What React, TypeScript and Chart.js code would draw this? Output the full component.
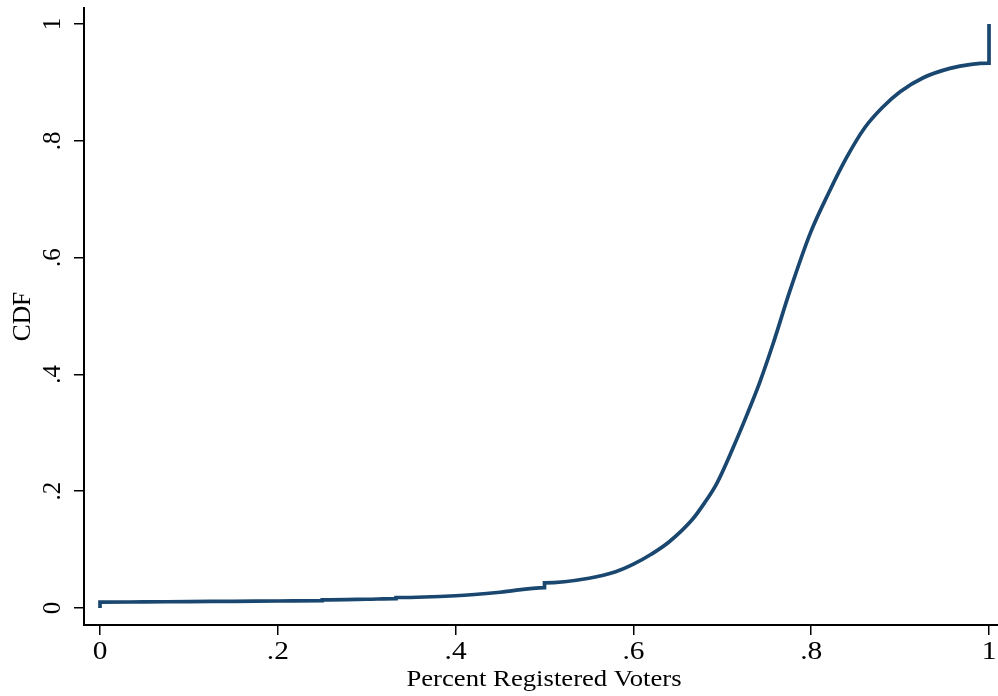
import React, { useEffect, useRef } from "react";
import { Chart, registerables } from "chart.js";

Chart.register(...registerables);

// Percent registered voters (x) and empirical CDF (y)
const pctRegistered = [
  0, 0, 0.05, 0.1, 0.15, 0.2, 0.25, 0.25, 0.3, 0.333, 0.333, 0.4, 0.45, 0.5, 0.5,
  0.55, 0.58, 0.6, 0.62, 0.64, 0.666, 0.68, 0.694, 0.712, 0.728, 0.742, 0.757,
  0.776, 0.799, 0.82, 0.84, 0.86, 0.88, 0.9, 0.926, 0.956, 0.98, 1, 1,
];
const cdfValues = [
  0, 0.01, 0.0105, 0.011, 0.0115, 0.012, 0.0125, 0.014, 0.015, 0.016, 0.018,
  0.021, 0.027, 0.035, 0.043, 0.051, 0.062, 0.075, 0.092, 0.113, 0.151, 0.18,
  0.214, 0.274, 0.332, 0.386, 0.452, 0.543, 0.642, 0.712, 0.772, 0.822, 0.857,
  0.884, 0.908, 0.924, 0.931, 0.933, 1,
];
const xTickValues = [0, 0.2, 0.4, 0.6, 0.8, 1];
const xTickLabels = ["0", ".2", ".4", ".6", ".8", "1"];
const yTickValues = [0, 0.2, 0.4, 0.6, 0.8, 1];
const yTickLabels = ["0", ".2", ".4", ".6", ".8", "1"];
const xTitle = "Percent Registered Voters";
const yTitle = "CDF";

const FONT = "'Liberation Serif', 'Times New Roman', serif";

// Draws axis text (tick labels, titles) at positions from the chart's scales,
// with a slight horizontal stretch to mimic the reference typeface.
const axisTextPlugin = {
  id: "axisText",
  afterDraw(chart: any) {
    const ctx = chart.ctx as CanvasRenderingContext2D;
    const xs = chart.scales.x;
    const ys = chart.scales.y;
    const area = chart.chartArea;
    ctx.save();
    ctx.fillStyle = "#000";
    ctx.textBaseline = "alphabetic";
    ctx.textAlign = "center";

    // x tick labels
    ctx.font = `24.5px ${FONT}`;
    xs.ticks.forEach((t: any) => {
      const i = xTickValues.indexOf(t.value);
      if (i < 0) return;
      const px = xs.getPixelForValue(t.value);
      ctx.save();
      ctx.translate(px, xs.top + 34);
      ctx.scale(1.2, 1);
      ctx.fillText(xTickLabels[i], 0, 0);
      ctx.restore();
    });

    // x title
    ctx.font = `23px ${FONT}`;
    ctx.save();
    ctx.translate((area.left + area.right) / 2 + 3, xs.top + 61);
    ctx.scale(1.16, 1);
    ctx.fillText(xTitle, 0, 0);
    ctx.restore();

    // y tick labels (rotated)
    ctx.font = `25px ${FONT}`;
    ys.ticks.forEach((t: any) => {
      const i = yTickValues.indexOf(t.value);
      if (i < 0) return;
      const py = ys.getPixelForValue(t.value);
      ctx.save();
      ctx.translate(ys.right - 24.5, py);
      ctx.rotate(-Math.PI / 2);
      ctx.fillText(yTickLabels[i], 0, 0);
      ctx.restore();
    });

    // y title (rotated)
    ctx.font = `25.5px ${FONT}`;
    ctx.save();
    ctx.translate(ys.left + 30, (area.top + area.bottom) / 2);
    ctx.rotate(-Math.PI / 2);
    ctx.fillText(yTitle, 0, 0);
    ctx.restore();

    ctx.restore();
  },
};

export default function App() {
  const ref = useRef<HTMLCanvasElement | null>(null);
  useEffect(() => {
    if (!ref.current) return;
    const points = pctRegistered.map((x, i) => ({ x, y: cdfValues[i] }));
    const chart = new Chart(ref.current, {
      type: "line",
      data: {
        datasets: [
          {
            data: points,
            borderColor: "#1a476f",
            borderWidth: 3.7,
            pointRadius: 0,
            cubicInterpolationMode: "monotone",
            fill: false,
          },
        ],
      },
      plugins: [axisTextPlugin],
      options: {
        animation: false,
        responsive: false,
        maintainAspectRatio: false,
        layout: { padding: { top: 8, right: 0, left: 0, bottom: 0 } },
        plugins: { legend: { display: false }, tooltip: { enabled: false } },
        scales: {
          x: {
            type: "linear",
            min: -0.018,
            max: 1.0101,
            afterBuildTicks: (s: any) => {
              s.ticks = xTickValues.map((v) => ({ value: v }));
            },
            afterFit: (s: any) => {
              s.height = 71;
              s.paddingLeft = 0;
              s.paddingRight = 0;
            },
            grid: {
              drawOnChartArea: false,
              drawTicks: true,
              tickLength: 10,
              color: "#000",
              lineWidth: 1.5,
            },
            border: { display: true, color: "#000", width: 2 },
            ticks: { display: false },
            title: { display: false },
          },
          y: {
            type: "linear",
            min: -0.0291,
            max: 1.0274,
            afterBuildTicks: (s: any) => {
              s.ticks = yTickValues.map((v) => ({ value: v }));
            },
            afterFit: (s: any) => {
              s.width = 84;
              s.paddingTop = 0;
              s.paddingBottom = 0;
            },
            grid: {
              drawOnChartArea: false,
              drawTicks: true,
              tickLength: 10,
              color: "#000",
              lineWidth: 1.5,
            },
            border: { display: true, color: "#000", width: 2 },
            ticks: { display: false },
            title: { display: false },
          },
        },
      },
    });
    return () => chart.destroy();
  }, []);
  return (
    <div style={{ position: "fixed", left: 0, top: 0, width: 998, height: 696, background: "#fff" }}>
      <canvas ref={ref} width={998} height={696} style={{ width: 998, height: 696, display: "block" }} />
    </div>
  );
}
